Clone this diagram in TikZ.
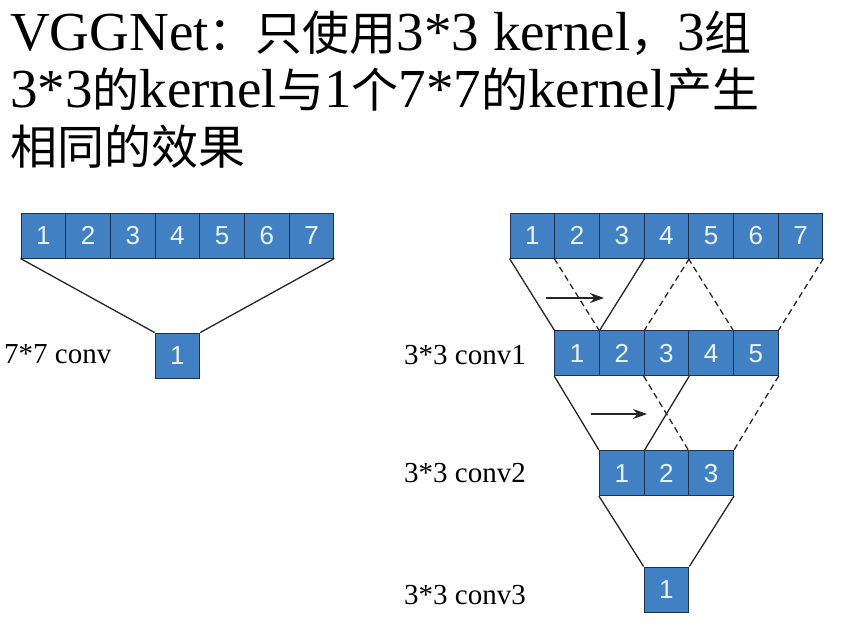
\documentclass[tikz,border=0pt]{standalone}
\usepackage{fontspec}
\setmainfont{Liberation Serif}
\newfontfamily\cjk{Noto Sans CJK SC}
\newfontfamily\numfont{Liberation Sans}
\usetikzlibrary{arrows.meta}
\definecolor{cellblue}{RGB}{64,128,195}
\definecolor{cellline}{RGB}{30,50,80}
\definecolor{celltext}{RGB}{236,243,251}
\newcommand\zhtext[1]{{\cjk\fontsize{47}{57}\selectfont #1}}
\tikzset{cell/.style={draw=cellline,fill=cellblue,line width=1pt,minimum width=44.7pt,minimum height=45pt,inner sep=0pt,text height=18.6pt,text depth=0pt,text=celltext,font=\numfont\fontsize{26}{26}\selectfont},
ttl/.style={anchor=base west,inner sep=0pt,font=\fontsize{55}{57}\selectfont},
lbl/.style={anchor=west,inner sep=0pt,font=\fontsize{29}{29}\selectfont},
edge/.style={line width=1.3pt,draw=black!85},dedge/.style={edge,dash pattern=on 6pt off 4pt},
arr/.style={-{Stealth[length=14pt,width=10pt]},line width=1.2pt,draw=black!85}}
\begin{document}
\begin{tikzpicture}[x=1pt,y=-1pt]
\useasboundingbox(0,0)rectangle(842,632);
\node[ttl](title1)at(10,50){VGGNet\zhtext{：只使用}3*3 kernel\zhtext{，}3\zhtext{组}};
\node[ttl](title2)at(10,107){3*3\zhtext{的}kernel\zhtext{与}1\zhtext{个}7*7\zhtext{的}kernel\zhtext{产生}};
\node[ttl](title3)at(10,164){\zhtext{相同的效果}};
% one 7*7 kernel
\foreach\i in{1,...,7}\node[cell](l\i)at({21+44.7*(\i-0.5)},235.5){\i};
\node[cell](l0)at(177.4,355.5){1};
\node[lbl](lab0)at(4,354){7*7 conv};
% three 3*3 kernels
\foreach\i in{1,...,7}\node[cell](t\i)at({510+44.7*(\i-0.5)},235.5){\i};
\foreach\i in{1,...,5}\node[cell](a\i)at({554.7+44.7*(\i-0.5)},353){\i};
\foreach\i in{1,2,3}\node[cell](b\i)at({599.4+44.7*(\i-0.5)},473){\i};
\node[cell](c1)at(666.45,589.5){1};
\node[lbl](lab1)at(404,355){3*3 conv1};
\node[lbl](lab2)at(404,473){3*3 conv2};
\node[lbl](lab3)at(404,595){3*3 conv3};
\foreach\a/\b in{l1.south west/l0.north west,l7.south east/l0.north east,t1.south west/a1.north west,t3.south east/a1.north east,a1.south west/b1.north west,a3.south east/b1.north east,b1.south west/c1.north west,b3.south east/c1.north east}\draw[edge](\a)--(\b);
\foreach\a/\b in{t2.south west/a2.north west,t4.south east/a2.north east,t5.south west/a5.north west,t7.south east/a5.north east,a3.south west/b3.north west,a5.south east/b3.north east}\draw[dedge](\a)--(\b);
\coordinate(s1)at(546,298);\coordinate(e1)at(604,298);
\coordinate(s2)at(591,414);\coordinate(e2)at(647,414);
\draw[arr](s1)--(e1);\draw[arr](s2)--(e2);
\end{tikzpicture}
\end{document}
